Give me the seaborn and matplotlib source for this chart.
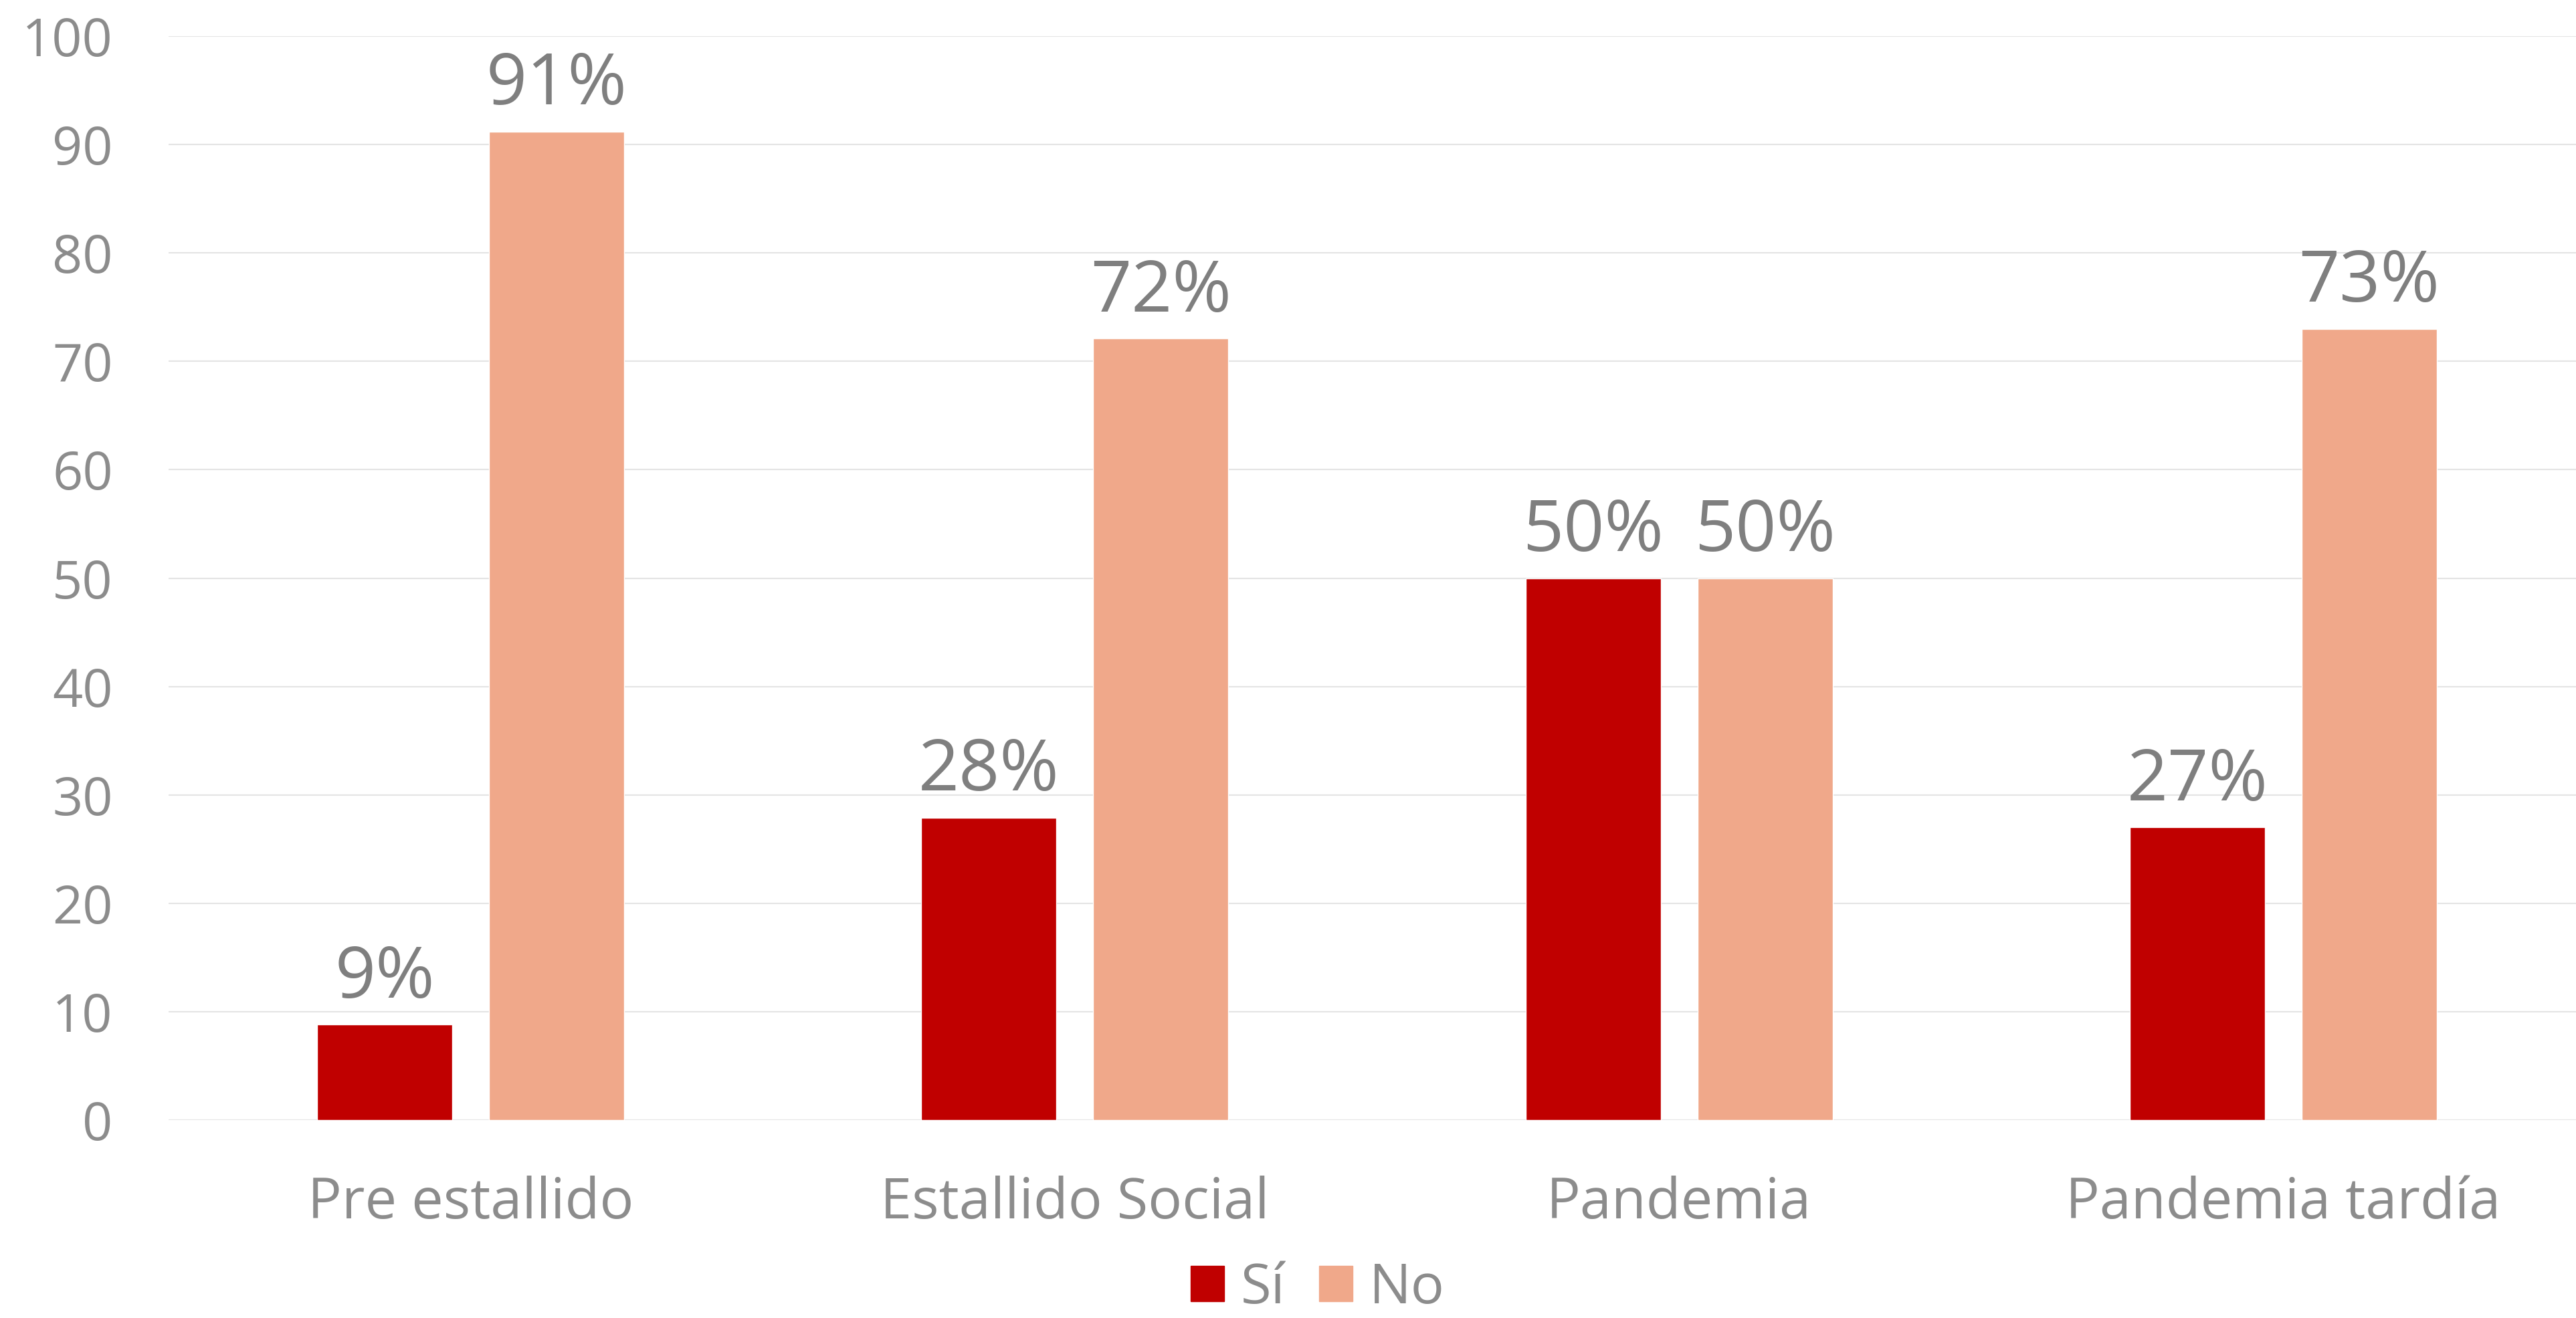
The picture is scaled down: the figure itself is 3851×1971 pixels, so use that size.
import matplotlib
matplotlib.use("Agg")
import matplotlib.pyplot as plt
import seaborn as sns
import pandas as pd

# Survey responses by period (percent)
periodos = ["Pre estallido", "Estallido Social", "Pandemia", "Pandemia tardía"]
si_vals = [8.8, 27.9, 50.0, 27.0]
no_vals = [91.2, 72.1, 50.0, 73.0]
respuestas = ["Sí", "No"]
colores = ["#C00000", "#F0A88A"]
y_ticks = [0, 10, 20, 30, 40, 50, 60, 70, 80, 90, 100]

df = pd.DataFrame({
    "periodo": periodos * 2,
    "valor": si_vals + no_vals,
    "respuesta": [respuestas[0]] * len(periodos) + [respuestas[1]] * len(periodos),
})

sns.set_theme(style="white")
plt.rcParams["font.family"] = ["Open Sans", "DejaVu Sans"]

W, H, DPI = 3851, 1971, 100
fig = plt.figure(figsize=(W / DPI, H / DPI), dpi=DPI)
# plot area runs slightly past the right edge of the canvas
ax = fig.add_axes([252 / W, 1 - 1675 / H, (3865 - 252) / W, (1675 - 54) / H])

sns.barplot(
    data=df, x="periodo", y="valor", hue="respuesta",
    order=periodos, hue_order=respuestas, palette=colores,
    width=0.569, gap=0.214, saturation=1, ax=ax, legend=False,
)

ax.set_ylim(0, 100)
ax.set_xlim(-0.5, len(periodos) - 0.5)
ax.set_yticks(y_ticks)
ax.set_yticklabels([str(t) for t in y_ticks])
ax.yaxis.grid(True, color="#E4E4E4", linewidth=1.5)
ax.set_axisbelow(True)
for s in ax.spines.values():
    s.set_visible(False)
ax.set_xlabel("")
ax.set_ylabel("")
ax.tick_params(axis="y", length=0, pad=60, labelsize=57, labelcolor="#8C8C8C")
ax.tick_params(axis="x", length=0, pad=60, labelsize=61, labelcolor="#8C8C8C")

for cont in ax.containers:
    ax.bar_label(cont, labels=[f"{b.get_height():.0f}%" for b in cont],
                 padding=11, fontsize=77, color="#7F7F7F")

handles = [plt.Rectangle((0, 0), 1, 1, color=c) for c in colores]
fig.legend(handles, respuestas, loc="center", bbox_to_anchor=(0.5115, 1 - 1928 / H),
           ncol=2, frameon=False, fontsize=60, labelcolor="#8C8C8C",
           handlelength=0.6, handleheight=0.6, handletextpad=0.3,
           columnspacing=0.6)

fig.savefig("out.png", dpi=DPI)
